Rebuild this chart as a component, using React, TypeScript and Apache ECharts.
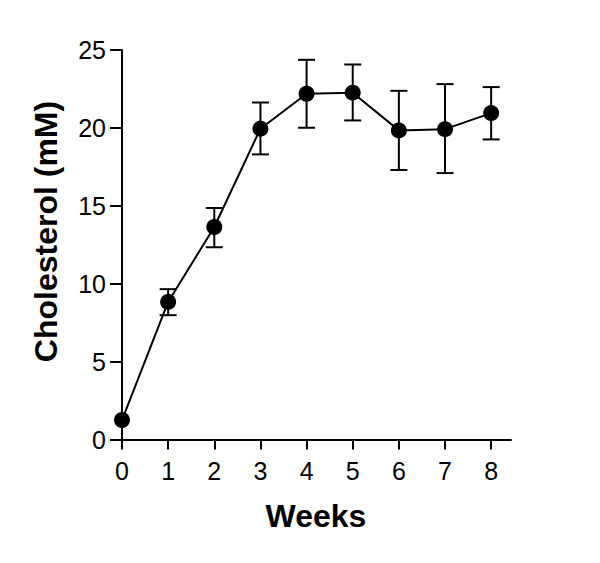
import React, { useEffect, useRef } from "react";
import * as echarts from "echarts";

const weeks = [0, 1, 2, 3, 4, 5, 6, 7, 8];
const cholesterol = [1.25, 8.83, 13.64, 19.95, 22.19, 22.26, 19.84, 19.92, 20.95];
const errHigh = [1.25, 9.65, 14.86, 21.63, 24.37, 24.07, 22.38, 22.81, 22.62];
const errLow = [1.25, 7.98, 12.34, 18.3, 20.01, 20.48, 17.3, 17.1, 19.26];
const xTicks = [0, 1, 2, 3, 4, 5, 6, 7, 8];
const xTitle = "Weeks";
const yTitle = "Cholesterol (mM)";

const FONT = "'Liberation Sans', Arial, Helvetica, sans-serif";

export default function App() {
  const ref = useRef<HTMLDivElement>(null);
  useEffect(() => {
    if (!ref.current) return;
    const chart = echarts.init(ref.current, null, { renderer: "svg" });
    chart.setOption({
      animation: false,
      backgroundColor: "#ffffff",
      grid: { left: 122, top: 50, right: 89, bottom: 123.5, containLabel: false },
      xAxis: {
        type: "value",
        min: 0,
        max: 8.43,
        axisLine: { show: true, onZero: false, lineStyle: { color: "#000", width: 2 } },
        axisTick: { show: true, length: 10, customValues: xTicks, lineStyle: { color: "#000", width: 2 } },
        axisLabel: { customValues: xTicks, color: "#000", fontSize: 25, fontFamily: FONT, margin: 19 },
        splitLine: { show: false },
      },
      yAxis: {
        type: "value",
        min: 0,
        max: 25,
        interval: 5,
        axisLine: { show: true, onZero: false, lineStyle: { color: "#000", width: 2 } },
        axisTick: { show: true, length: 12, lineStyle: { color: "#000", width: 2 } },
        axisLabel: { color: "#000", fontSize: 25, fontFamily: FONT, margin: 16 },
        splitLine: { show: false },
      },
      graphic: [
        {
          type: "text",
          x: 316,
          y: 516,
          style: {
            text: xTitle,
            fill: "#000",
            font: `bold 32px ${FONT}`,
            textAlign: "center",
            textVerticalAlign: "middle",
          },
        },
        {
          type: "text",
          x: 46,
          y: 231.5,
          rotation: Math.PI / 2,
          style: {
            text: yTitle,
            fill: "#000",
            font: `bold 32px ${FONT}`,
            textAlign: "center",
            textVerticalAlign: "middle",
          },
        },
      ],
      series: [
        {
          type: "custom",
          z: 1,
          data: weeks.map((w, i) => [w, errLow[i], errHigh[i]]),
          renderItem: (params: any, api: any) => {
            const x = api.value(0);
            const lo = api.coord([x, api.value(1)]);
            const hi = api.coord([x, api.value(2)]);
            if (Math.abs(lo[1] - hi[1]) < 1) return { type: "group", children: [] };
            const hw = 8.5;
            const st = { stroke: "#000", lineWidth: 2 };
            return {
              type: "group",
              children: [
                { type: "line", shape: { x1: lo[0], y1: lo[1], x2: hi[0], y2: hi[1] }, style: st },
                { type: "line", shape: { x1: lo[0] - hw, y1: lo[1], x2: lo[0] + hw, y2: lo[1] }, style: st },
                { type: "line", shape: { x1: hi[0] - hw, y1: hi[1], x2: hi[0] + hw, y2: hi[1] }, style: st },
              ],
            };
          },
        },
        {
          type: "line",
          z: 2,
          data: weeks.map((w, i) => [w, cholesterol[i]]),
          symbol: "circle",
          symbolSize: 16,
          showAllSymbol: true,
          itemStyle: { color: "#000" },
          lineStyle: { color: "#000", width: 2 },
        },
      ],
    });
    return () => chart.dispose();
  }, []);
  return (
    <div
      ref={ref}
      style={{ position: "fixed", left: 0, top: 0, width: 600, height: 563, background: "#fff" }}
    />
  );
}
